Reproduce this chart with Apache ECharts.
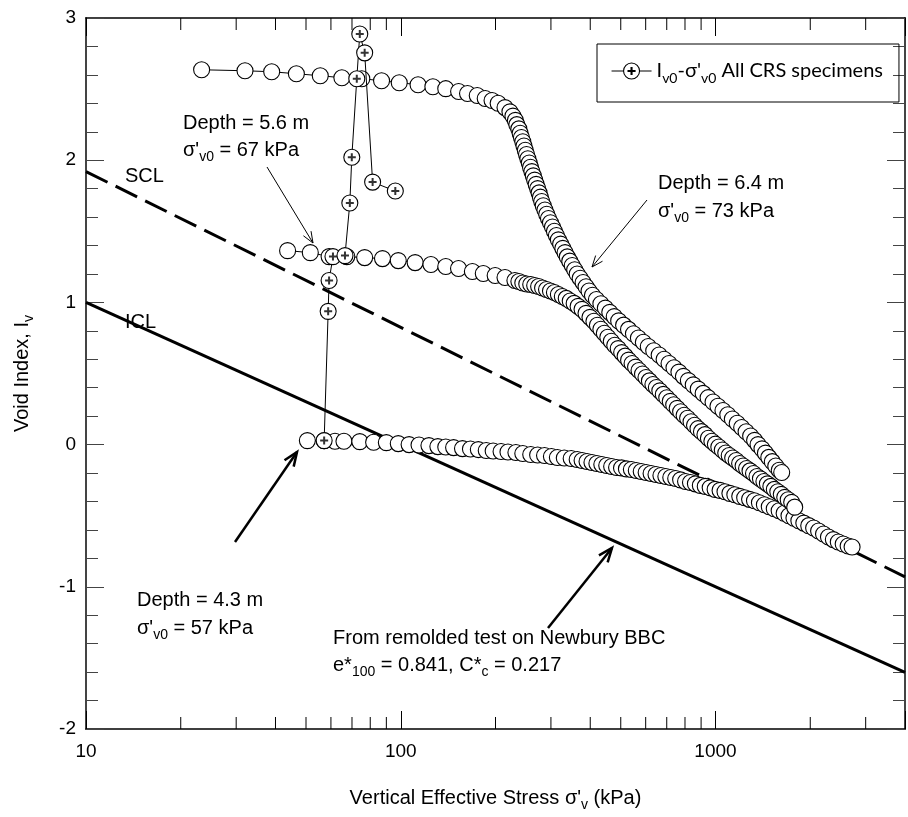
<!DOCTYPE html>
<html><head><meta charset="utf-8">
<script src="https://cdn.jsdelivr.net/npm/echarts@6/dist/echarts.min.js"></script>
<style>html,body{margin:0;padding:0;background:#fff}#c{width:908px;height:817px}</style>
</head><body><div id="c"></div>
<script>
// ---------- data (σ'v in kPa, Iv) ----------
const xTickLabels = ['10', '100', '1000'];
const yTickLabels = ['-2', '-1', '0', '1', '2', '3'];
const minorTicks = [20, 30, 40, 50, 60, 70, 80, 90, 200, 300, 400, 500, 600, 700, 800, 900, 2000, 3000];

const iclLine = [[10, 1.0], [4000, -1.602]];
const sclLine = [[10, 1.92], [4000, -0.93]];

// Iv0 - σ'v0 of all CRS specimens
const crsPoints = [[57.1, 0.028], [58.8, 0.937], [59.2, 1.154], [60.9, 1.322], [66.5, 1.329], [68.9, 1.699],
  [69.9, 2.021], [72.5, 2.573], [74.1, 2.888], [76.8, 2.755], [81.4, 1.846], [96.1, 1.783]];

// Depth = 4.3 m
const depth43 = [[50.5, 0.028], [57.1, 0.028], [61.8, 0.024], [66.0, 0.024], [74.1, 0.021], [82.0, 0.017], [90.0, 0.014],
  [98.2, 0.007], [106.3, 0.000], [114.3, -0.003], [122.9, -0.007], [131.2, -0.014], [139.0, -0.017], [147.2, -0.021],
  [157.1, -0.028], [166.5, -0.031], [176.4, -0.035], [186.9, -0.042], [196.6, -0.045], [208.3, -0.049], [219.1, -0.052],
  [232.2, -0.056], [244.2, -0.063], [258.8, -0.070], [272.2, -0.073], [286.3, -0.077], [301.1, -0.084], [314.5, -0.091],
  [330.8, -0.094], [347.9, -0.098], [363.5, -0.105], [376.8, -0.112], [390.7, -0.119], [405.0, -0.126], [419.9, -0.133],
  [435.3, -0.140], [451.3, -0.147], [467.8, -0.154], [485.0, -0.161], [502.8, -0.164], [521.2, -0.171], [540.4, -0.175],
  [560.2, -0.182], [580.8, -0.189], [602.1, -0.196], [624.2, -0.203], [647.1, -0.210], [670.8, -0.217], [695.4, -0.224],
  [721.0, -0.231], [747.4, -0.238], [774.8, -0.248], [803.3, -0.259], [832.7, -0.266], [863.3, -0.276], [895.0, -0.287],
  [927.8, -0.294], [961.9, -0.304], [997.2, -0.315], [1034, -0.322], [1072, -0.332], [1111, -0.343], [1152, -0.353],
  [1194, -0.364], [1238, -0.374], [1283, -0.385], [1330, -0.395], [1379, -0.409], [1430, -0.423], [1482, -0.437],
  [1537, -0.451], [1593, -0.465], [1652, -0.483], [1712, -0.500], [1775, -0.517], [1840, -0.535], [1908, -0.552],
  [1978, -0.570], [2050, -0.587], [2126, -0.608], [2204, -0.629], [2285, -0.650], [2368, -0.668], [2455, -0.685],
  [2545, -0.699], [2639, -0.713], [2716, -0.720]];

// Depth = 5.6 m
const depth56 = [[43.7, 1.364], [51.6, 1.350], [59.2, 1.322], [67.4, 1.322], [76.8, 1.315], [87.5, 1.308], [98.2, 1.294],
  [111.1, 1.280], [124.7, 1.266], [139.0, 1.252], [152.6, 1.238], [168.9, 1.217], [182.9, 1.203], [199.5, 1.189],
  [214.4, 1.175], [230.5, 1.154], [237.3, 1.147], [244.2, 1.136], [251.4, 1.129], [258.8, 1.126], [266.4, 1.119],
  [274.2, 1.112], [282.2, 1.101], [290.5, 1.091], [299.0, 1.080], [307.8, 1.070], [316.8, 1.056], [326.1, 1.042],
  [335.6, 1.028], [345.5, 1.010], [355.6, 0.993], [366.0, 0.972], [376.7, 0.951], [387.8, 0.923], [399.2, 0.895],
  [410.9, 0.867], [421.5, 0.839], [432.3, 0.811], [443.4, 0.783], [454.8, 0.755], [466.5, 0.727], [478.5, 0.699],
  [490.8, 0.675], [503.4, 0.647], [516.3, 0.622], [529.6, 0.594], [543.2, 0.570], [557.2, 0.545], [571.5, 0.521],
  [586.2, 0.497], [601.3, 0.472], [616.7, 0.448], [632.6, 0.423], [648.8, 0.402], [665.5, 0.378], [682.6, 0.353],
  [700.1, 0.329], [718.1, 0.304], [736.6, 0.280], [755.5, 0.255], [774.9, 0.231], [794.8, 0.206], [815.3, 0.185],
  [836.2, 0.161], [857.7, 0.136], [879.8, 0.112], [902.4, 0.091], [925.6, 0.070], [949.4, 0.045], [973.8, 0.024],
  [998.9, 0.003], [1024.5, -0.017], [1050.8, -0.038], [1077.8, -0.059], [1105.5, -0.077], [1133.9, -0.094],
  [1163.1, -0.112], [1193.0, -0.133], [1223.7, -0.150], [1255.2, -0.168], [1287.4, -0.185], [1320.5, -0.203],
  [1354.5, -0.224], [1389.3, -0.241], [1425.0, -0.259], [1461.7, -0.276], [1499.3, -0.294], [1537.8, -0.315],
  [1577.4, -0.332], [1617.9, -0.350], [1659.5, -0.371], [1702.2, -0.388], [1746.0, -0.406], [1785, -0.440]];

// Depth = 6.4 m
const depth64 = [[23.3, 2.636], [32.0, 2.629], [38.9, 2.622], [46.6, 2.608], [55.5, 2.594], [65.0, 2.580], [75.2, 2.573],
  [86.9, 2.559], [98.9, 2.545], [113.5, 2.531], [126.5, 2.517], [139, 2.503], [152.7, 2.483], [163, 2.469], [175, 2.455],
  [185.5, 2.434], [195, 2.420], [203.9, 2.40], [214.4, 2.37], [222.3, 2.34], [227.2, 2.31], [231.3, 2.28], [233.8, 2.25],
  [237.2, 2.22], [239.5, 2.19], [241.8, 2.16], [244.2, 2.13], [246.3, 2.10], [248.7, 2.07], [251.0, 2.04], [253.4, 2.01],
  [256.0, 1.98], [258.4, 1.95], [261.0, 1.92], [263.7, 1.89], [266.4, 1.86], [269.3, 1.83], [272.3, 1.80], [275.1, 1.77],
  [277.8, 1.74], [280.5, 1.71], [283.6, 1.68], [287.1, 1.65], [290.9, 1.62], [294.7, 1.59], [299.0, 1.56], [303.4, 1.53],
  [307.8, 1.50], [312.3, 1.47], [316.8, 1.44], [322.1, 1.41], [327.3, 1.38], [332.7, 1.35], [338.1, 1.32], [344.3, 1.29],
  [350.6, 1.26], [357.0, 1.23], [363.5, 1.20], [371.5, 1.17], [379.6, 1.14], [387.9, 1.11], [396.4, 1.08], [406.5, 1.05],
  [418.5, 1.02], [432.4, 0.99], [446.7, 0.96], [461.4, 0.93], [476.7, 0.90], [492.5, 0.87], [510.5, 0.84], [529.3, 0.81],
  [548.7, 0.78], [568.9, 0.75], [589.8, 0.72], [611.5, 0.69], [636.4, 0.66], [662.2, 0.63], [686.6, 0.60], [711.8, 0.57],
  [738.1, 0.54], [765.2, 0.51], [790.7, 0.48], [819.8, 0.45], [849.9, 0.42], [881.2, 0.39], [913.6, 0.36], [947.3, 0.33],
  [982.2, 0.30], [1018, 0.27], [1056, 0.24], [1094, 0.21], [1131, 0.18], [1172, 0.15], [1211, 0.12], [1251, 0.09],
  [1293, 0.06], [1331, 0.03], [1365, 0.00], [1405, -0.03], [1441, -0.06], [1477, -0.09], [1515, -0.12], [1554, -0.15],
  [1594, -0.18], [1623, -0.196]];

// ---------- chart ----------
const FONT = '"Liberation Sans", Arial, sans-serif';
function rich(fs, fam) {
  return {
    a: { fontSize: fs, fontFamily: fam || FONT, color: '#000', lineHeight: 28 },
    s: { fontSize: Math.round(fs * 0.68), fontFamily: fam || FONT, color: '#000', lineHeight: 28, verticalAlign: 'bottom' }
  };
}
const chart = echarts.init(document.getElementById('c'), null, { renderer: 'canvas', width: 908, height: 817 });

const circleStyle = { color: '#fff', borderColor: '#000', borderWidth: 1.1 };
function curve(name, data) {
  return {
    name: name, type: 'line', data: data, symbol: 'circle', symbolSize: 16, showSymbol: true, showAllSymbol: true,
    itemStyle: circleStyle, lineStyle: { color: '#000', width: 1 }, z: 3, silent: true
  };
}

function xLabel(v) {
  const r = String(Math.round(v));
  return xTickLabels.indexOf(r) >= 0 ? r : '';
}

const option = {
  animation: false,
  backgroundColor: '#fff',
  grid: { left: 86, right: -7, top: 18, bottom: 84, containLabel: false },
  legend: {
    left: 597, top: 44, padding: [17, 16, 17, 14],
    borderColor: '#000', borderWidth: 1, borderRadius: 0,
    itemWidth: 40, itemHeight: 16, selectedMode: false,
    data: [{ name: 'CRS', icon: 'path://M0,8L12,8M28,8L40,8M20,0A8,8,0,1,1,20,16A8,8,0,1,1,20,0ZM19.5,4.5H20.5V7.5H23.5V8.5H20.5V11.5H19.5V8.5H16.5V7.5H19.5Z' }],
    itemStyle: { color: '#fff', borderColor: '#000', borderWidth: 1.1 },
    formatter: function () { return "{a|I}{s|v0}{a|-σ'}{s|v0}{a| All CRS specimens}"; },
    textStyle: { rich: rich(20, 'Lato') }
  },
  xAxis: [{
    type: 'log', logBase: 10, min: 10, max: 4000, position: 'bottom',
    axisLine: { show: true, onZero: false, lineStyle: { color: '#000', width: 1.5 } },
    axisTick: { show: true, inside: true, length: 18, lineStyle: { color: '#000', width: 1 } },
    minorTick: { show: false }, splitLine: { show: false },
    axisLabel: { show: true, margin: 13, fontSize: 19, fontFamily: FONT, color: '#000', formatter: xLabel },
    name: "{a|Vertical Effective Stress σ'}{s|v}{a| (kPa)}", nameLocation: 'middle', nameGap: 55,
    nameTextStyle: { rich: rich(20) }
  }, {
    type: 'log', logBase: 10, min: 10, max: 4000, position: 'top',
    axisLine: { show: true, onZero: false, lineStyle: { color: '#000', width: 1.5 } },
    axisTick: { show: true, inside: true, length: 18, lineStyle: { color: '#000', width: 1 } },
    axisLabel: { show: false }, splitLine: { show: false }
  }],
  yAxis: [{
    type: 'value', min: -2, max: 3, interval: 1, position: 'left',
    axisLine: { show: true, onZero: false, lineStyle: { color: '#444', width: 2 } },
    axisTick: { show: true, inside: true, length: 18, lineStyle: { color: '#444', width: 1 } },
    minorTick: { show: true, splitNumber: 5, length: 12, lineStyle: { color: '#444', width: 1 } },
    splitLine: { show: false },
    axisLabel: { show: true, margin: 10, fontSize: 19, fontFamily: FONT, color: '#000',
      formatter: function (v) { const s = String(Math.round(v)); return yTickLabels.indexOf(s) >= 0 ? s : ''; } },
    name: "{a|Void Index, I}{s|v}", nameLocation: 'middle', nameGap: 50, nameRotate: 90,
    nameTextStyle: { rich: rich(20) }
  }, {
    type: 'value', min: -2, max: 3, interval: 1, position: 'right',
    axisLine: { show: true, onZero: false, lineStyle: { color: '#444', width: 2 } },
    axisTick: { show: true, inside: true, length: 18, lineStyle: { color: '#444', width: 1 } },
    minorTick: { show: true, splitNumber: 5, length: 12, lineStyle: { color: '#444', width: 1 } },
    splitLine: { show: false }, axisLabel: { show: false }
  }],
  series: [
    { name: 'ICL', type: 'line', data: iclLine, symbol: 'none', lineStyle: { color: '#000', width: 3 }, z: 1, silent: true },
    { name: 'SCL', type: 'line', data: sclLine, symbol: 'none', lineStyle: { color: '#000', width: 3, type: [24, 9] }, z: 1, silent: true },
    curve('d43', depth43),
    curve('d56', depth56),
    curve('d64', depth64),
    { name: 'CRS', type: 'line', data: crsPoints, symbol: 'circle', symbolSize: 16, showAllSymbol: true,
      itemStyle: circleStyle, lineStyle: { color: '#000', width: 1 }, z: 4, silent: true },
    { name: 'CRSplus', type: 'scatter', data: crsPoints, symbol: 'path://M-4,0L4,0M0,-4L0,4', symbolSize: 8,
      itemStyle: { color: '#000', borderColor: '#000', borderWidth: 2 }, z: 5, silent: true },
    { name: 'minorTicks', type: 'custom', data: minorTicks.map(function (v) { return [v, 0]; }), silent: true, clip: false, z: 6,
      renderItem: function (params, api) {
        const x = api.coord([api.value(0), 0])[0];
        const yb = api.coord([10, -2])[1];
        const yt = api.coord([10, 3])[1];
        return { type: 'group', children: [
          { type: 'line', shape: { x1: x, y1: yb, x2: x, y2: yb - 12 }, style: { stroke: '#000', lineWidth: 1 } },
          { type: 'line', shape: { x1: x, y1: yt, x2: x, y2: yt + 12 }, style: { stroke: '#000', lineWidth: 1 } }
        ] };
      } }
  ]
};

// ---------- annotations ----------
function txt(x, y, text, fs) {
  return { type: 'text', x: x, y: y, z: 20, silent: true,
    style: { text: text, rich: rich(fs || 20), align: 'left', verticalAlign: 'middle', fill: '#000' } };
}
function arrow(x1, y1, x2, y2, w, head) {
  const ang = Math.atan2(y2 - y1, x2 - x1);
  const a1 = ang + Math.PI - 0.38, a2 = ang + Math.PI + 0.38;
  return [
    { type: 'line', z: 20, silent: true, shape: { x1: x1, y1: y1, x2: x2, y2: y2 }, style: { stroke: '#000', lineWidth: w } },
    { type: 'polyline', z: 20, silent: true, shape: { points: [[x2 + head * Math.cos(a1), y2 + head * Math.sin(a1)], [x2, y2],
      [x2 + head * Math.cos(a2), y2 + head * Math.sin(a2)]] }, style: { stroke: '#000', lineWidth: w, fill: null } }
  ];
}
option.graphic = [
  txt(183, 123, '{a|Depth = 5.6 m}'),
  txt(183, 150, "{a|σ'}{s|v0}{a| = 67 kPa}"),
  txt(125, 176, '{a|SCL}'),
  txt(125, 322, '{a|ICL}'),
  txt(658, 183, '{a|Depth = 6.4 m}'),
  txt(658, 211, "{a|σ'}{s|v0}{a| = 73 kPa}"),
  txt(137, 600, '{a|Depth = 4.3 m}'),
  txt(137, 628, "{a|σ'}{s|v0}{a| = 57 kPa}"),
  txt(333, 638, '{a|From remolded test on Newbury BBC}'),
  txt(333, 665, '{a|e*}{s|100}{a| = 0.841, C*}{s|c}{a| = 0.217}')
].concat(arrow(267, 167, 313, 243, 1, 12))
 .concat(arrow(647, 200, 592, 267, 1, 12))
 .concat(arrow(235, 542, 297, 452, 2.5, 15))
 .concat(arrow(548, 628, 612, 548, 2.5, 15));

chart.setOption(option);
</script>
</body></html>
